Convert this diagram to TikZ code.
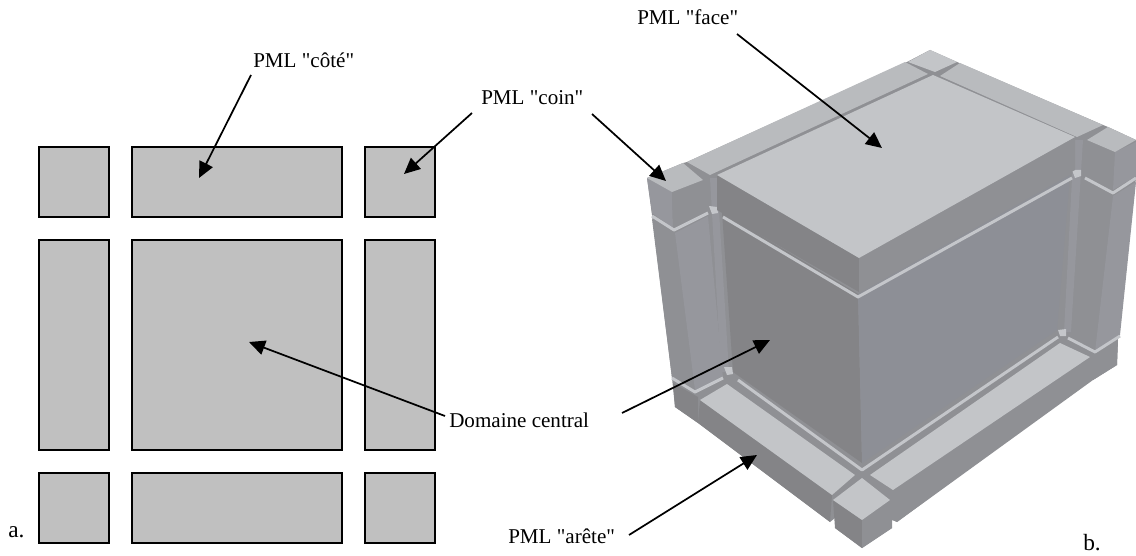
\documentclass[tikz,border=0pt]{standalone}
\usepackage{fontspec}
\setmainfont[Ligatures=TeXOff]{Liberation Serif}
\usetikzlibrary{arrows.meta}
\definecolor{topcol}{HTML}{C3C5C8}
\definecolor{stripcol}{HTML}{B9BBBE}
\definecolor{sidecol}{HTML}{8F9094}
\definecolor{leftcol}{HTML}{848487}
\definecolor{rightcol}{HTML}{8D8F96}
\definecolor{pillarcol}{HTML}{96979D}
\definecolor{gapcol}{HTML}{C4C6CA}
\definecolor{boxcol}{HTML}{C0C0C0}
\tikzset{
  pmlbox/.style={draw=black,line width=1.3pt,fill=boxcol},
  lab/.style={anchor=base west,inner sep=0pt,font=\fontsize{15.8}{18}\selectfont},
  partlab/.style={anchor=base west,inner sep=0pt,font=\fontsize{17.5}{20}\selectfont},
  point/.style={-{Triangle[length=12pt,width=11pt]},line width=1.3pt},
  gap/.style={draw=gapcol,line width=2.2pt,line join=round}
}
\begin{document}
\begin{tikzpicture}[x=0.75pt,y=-0.75pt]
\useasboundingbox (0,0) rectangle (1136,556);
% a. flat cut
\draw[pmlbox] (39,147) rectangle (109,217);
\draw[pmlbox] (132,147) rectangle (342,217);
\draw[pmlbox] (365,147) rectangle (435,217);
\draw[pmlbox] (39,240) rectangle (109,450);
\draw[pmlbox] (132,240) rectangle (342,450);
\draw[pmlbox] (365,240) rectangle (435,450);
\draw[pmlbox] (39,473) rectangle (109,543);
\draw[pmlbox] (132,473) rectangle (342,543);
\draw[pmlbox] (365,473) rectangle (435,543);
% b. silhouette, shows through the gaps
\fill[sidecol] (647,178) -- (683,163) -- (687,162) -- (907,62) -- (930,50) -- (957,62) -- (1103,125) -- (1108,127) -- (1136,140) -- (1136,178) -- (1118,338) -- (1117,365) -- (1093,380) -- (897,522) -- (892,520) -- (892,528) -- (862,548) -- (835,528) -- (835,518) -- (830,522) -- (698,423) -- (675,407) -- (672,378) -- (652,215) -- cycle;
% left pillar
\fill[sidecol] (652,219) -- (675,233) -- (695,390) -- (672,378) -- cycle;
\fill[pillarcol] (675,233) -- (708,216) -- (723,378) -- (695,390) -- cycle;
\fill[pillarcol] (647,178) -- (672,192) -- (673,228) -- (652,213) -- cycle;
\fill[sidecol] (672,192) -- (703,180) -- (708,211) -- (673,228) -- cycle;
\fill[stripcol] (647,178) -- (683,163) -- (703,180) -- (672,192) -- cycle;
\draw[gap] (652,216) -- (674,230) -- (708,213);
\fill[pillarcol] (710,178) -- (717,178) -- (729,372) -- (721,372) -- cycle;
\fill[gapcol] (709,206) -- (717,207) -- (718,213) -- (712,214) -- cycle;
% back strips and corner
\fill[stripcol] (687,162) -- (905,62) -- (928,74) -- (710,175) -- cycle;
\fill[stripcol] (960,63) -- (1103,125) -- (1077,137) -- (940,76) -- cycle;
\fill[topcol] (930,50) -- (957,62) -- (935,72) -- (908,62) -- cycle;
% right pillar
\fill[sidecol] (1086,180) -- (1113,196) -- (1095,352) -- (1068,338) -- cycle;
\fill[pillarcol] (1113,196) -- (1136,182) -- (1120,335) -- (1095,352) -- cycle;
\fill[sidecol] (1087,140) -- (1115,152) -- (1113,190) -- (1085,176) -- cycle;
\fill[pillarcol] (1115,152) -- (1136,142) -- (1136,176) -- (1113,190) -- cycle;
\fill[stripcol] (1087,140) -- (1108,127) -- (1136,140) -- (1115,152) -- cycle;
\draw[gap] (1085,178) -- (1113,193) -- (1136,178);
\fill[pillarcol] (1074,140) -- (1083,140) -- (1071,332) -- (1064,332) -- cycle;
\fill[gapcol] (1072,170) -- (1081,170) -- (1081,176) -- (1075,178) -- cycle;
% central domain
\fill[leftcol] (722,212) -- (858,294) -- (862,463) -- (733,372) -- cycle;
\fill[rightcol] (858,294) -- (1070,175) -- (1057,330) -- (862,463) -- cycle;
\draw[gap] (723,217) -- (858,297) -- (1072,178);
% face slab
\fill[leftcol] (717,175) -- (859,258) -- (859,292) -- (717,210) -- cycle;
\fill[sidecol] (859,258) -- (1075,137) -- (1075,170) -- (859,292) -- cycle;
\fill[topcol] (717,175) -- (933,75) -- (1075,137) -- (859,258) -- cycle;
% bottom pieces
\fill[leftcol] (673,383) -- (698,397) -- (698,423) -- (675,407) -- cycle;
\draw[gap] (672,378) -- (695,392) -- (723,378);
\fill[sidecol] (1092,357) -- (1118,340) -- (1117,365) -- (1093,380) -- cycle;
\draw[gap] (1068,338) -- (1095,352) -- (1120,336);
\draw[gap] (738,380) -- (862,470) -- (1058,337);
\fill[gapcol] (724,367) -- (732,367) -- (733,374) -- (727,375) -- cycle;
\fill[gapcol] (1058,330) -- (1066,329) -- (1066,336) -- (1060,336) -- cycle;
% bottom strips
\fill[leftcol] (700,400) -- (832,495) -- (830,522) -- (698,423) -- cycle;
\fill[topcol] (700,400) -- (727,384) -- (855,475) -- (832,495) -- cycle;
\fill[sidecol] (893,490) -- (1090,357) -- (1089,380) -- (897,522) -- (893,520) -- cycle;
\fill[topcol] (870,475) -- (1060,343) -- (1090,357) -- (893,490) -- cycle;
% front corner
\fill[leftcol] (833,500) -- (862,520) -- (862,548) -- (835,528) -- cycle;
\fill[sidecol] (862,520) -- (890,500) -- (892,528) -- (862,548) -- cycle;
\fill[topcol] (833,500) -- (862,478) -- (890,500) -- (862,520) -- cycle;
% labels
\node[lab] (cote) at (253,68) {PML "côté"};
\node[lab] (coin) at (481,105) {PML "coin"};
\node[lab] (face) at (637,25) {PML "face"};
\node[lab] (domaine) at (449,427) {Domaine central};
\node[lab] (arete) at (508,543) {PML "arête"};
\node[partlab] (parta) at (8,537) {a.};
\node[partlab] (partb) at (1083,550) {b.};
% arrow ends
\coordinate (cotefrom) at (251,75);
\coordinate (coteto) at (199,178);
\coordinate (coinfroma) at (472,113);
\coordinate (cointoa) at (404,174);
\coordinate (coinfromb) at (592,114);
\coordinate (cointob) at (666,181);
\coordinate (facefrom) at (737,34);
\coordinate (faceto) at (882,148);
\coordinate (domfroma) at (445,416);
\coordinate (domtoa) at (249,342);
\coordinate (domfromb) at (622,413);
\coordinate (domtob) at (770,340);
\coordinate (aretefrom) at (629,535);
\coordinate (areteto) at (757,455);
\draw[point] (cotefrom) -- (coteto);
\draw[point] (coinfroma) -- (cointoa);
\draw[point] (coinfromb) -- (cointob);
\draw[point] (facefrom) -- (faceto);
\draw[point] (domfroma) -- (domtoa);
\draw[point] (domfromb) -- (domtob);
\draw[point] (aretefrom) -- (areteto);
\end{tikzpicture}
\end{document}
